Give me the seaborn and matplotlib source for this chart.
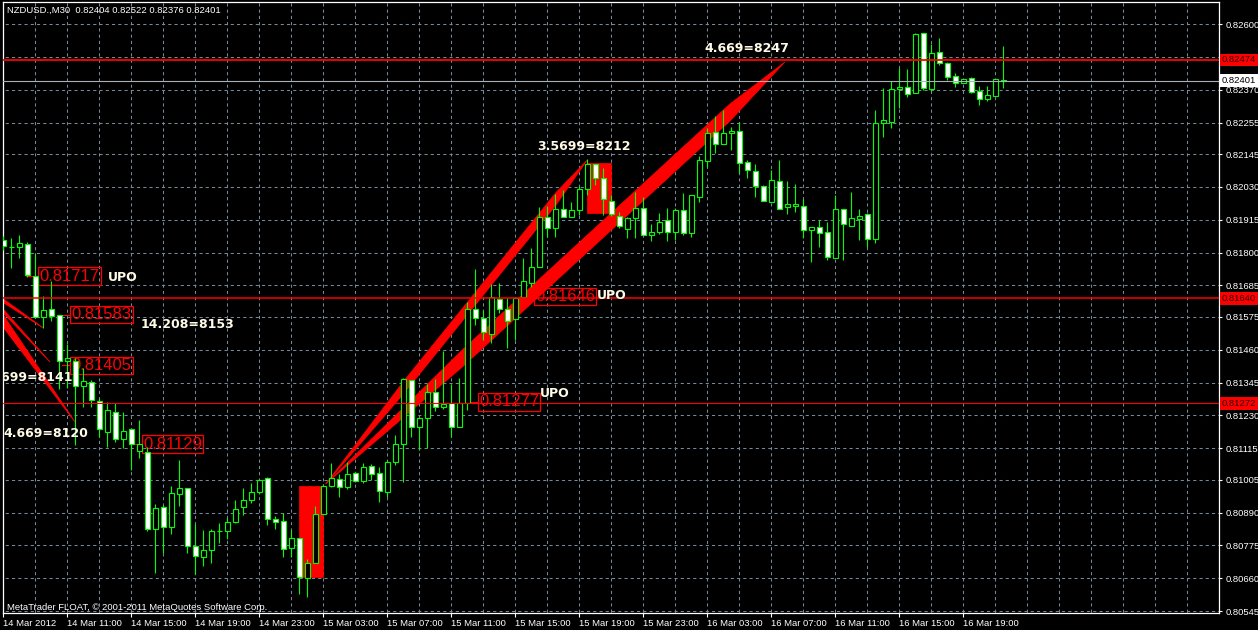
import numpy as np
import pandas as pd
import matplotlib
matplotlib.use("Agg")
import matplotlib.pyplot as plt
import matplotlib.transforms as mtransforms
from matplotlib.patches import Polygon, Rectangle
import seaborn as sns

sns.set_theme(style="dark", rc={"axes.facecolor": "black", "figure.facecolor": "black"})
plt.rcParams["font.family"] = ["Liberation Sans", "DejaVu Sans"]

symbol = "NZDUSD.,M30"

# 30 minute bars, 14 Mar 2012 07:00 -> 16 Mar 2012 21:30
opens = [0.81844, 0.81820, 0.81820, 0.81830, 0.81717, 0.81574, 0.81602, 0.81583, 0.81420, 0.81420,
         0.81333, 0.81347, 0.81280, 0.81172, 0.81242, 0.81148, 0.81182, 0.81106, 0.81102, 0.80832,
         0.80910, 0.80840, 0.80955, 0.80976, 0.80773, 0.80734, 0.80759, 0.80826, 0.80826, 0.80857,
         0.80910, 0.80934, 0.80962, 0.81011, 0.80868, 0.80860, 0.80766, 0.80801, 0.80661, 0.80714,
         0.80885, 0.80983, 0.81008, 0.80980, 0.81028, 0.81000, 0.81053, 0.81028, 0.80962, 0.81067,
         0.81130, 0.81354, 0.81190, 0.81221, 0.81312, 0.81260, 0.81274, 0.81190, 0.81274, 0.81602,
         0.81571, 0.81515, 0.81638, 0.81602, 0.81568, 0.81644, 0.81694, 0.81750, 0.81924, 0.81886,
         0.81952, 0.81924, 0.81949, 0.82022, 0.82110, 0.82061, 0.81980, 0.81928, 0.81882, 0.81921,
         0.81956, 0.81862, 0.81872, 0.81914, 0.81872, 0.81949, 0.81868, 0.81994, 0.82120, 0.82222,
         0.82180, 0.82218, 0.82226, 0.82117, 0.82086, 0.82033, 0.81977, 0.82050, 0.81960, 0.81963,
         0.81963, 0.81879, 0.81890, 0.81872, 0.81781, 0.81952, 0.81893, 0.81918, 0.81935, 0.81848,
         0.82254, 0.82257, 0.82372, 0.82380, 0.82358, 0.82568, 0.82372, 0.82502, 0.82464, 0.82418,
         0.82394, 0.82411, 0.82366, 0.82338, 0.82348, 0.82404]
highs = [0.81858, 0.81851, 0.81862, 0.81837, 0.81799, 0.81648, 0.81700, 0.81583, 0.81480, 0.81431,
         0.81396, 0.81354, 0.81291, 0.81277, 0.81274, 0.81242, 0.81186, 0.81214, 0.81120, 0.80920,
         0.80916, 0.80983, 0.81074, 0.80976, 0.80850, 0.80829, 0.80832, 0.80854, 0.80871, 0.80934,
         0.80976, 0.80994, 0.81008, 0.81014, 0.80878, 0.80888, 0.80829, 0.80801, 0.80728, 0.80913,
         0.80990, 0.81064, 0.81025, 0.81067, 0.81032, 0.81064, 0.81060, 0.81050, 0.81074, 0.81162,
         0.81361, 0.81354, 0.81224, 0.81340, 0.81358, 0.81456, 0.81340, 0.81361, 0.81627, 0.81742,
         0.81599, 0.81690, 0.81694, 0.81641, 0.81644, 0.81781, 0.81816, 0.81960, 0.81963, 0.82005,
         0.82019, 0.81977, 0.82033, 0.82128, 0.82110, 0.82096, 0.82002, 0.81942, 0.81924, 0.82012,
         0.81994, 0.81900, 0.81938, 0.81956, 0.81956, 0.82008, 0.82002, 0.82138, 0.82236, 0.82278,
         0.82299, 0.82240, 0.82257, 0.82124, 0.82110, 0.82036, 0.82089, 0.82124, 0.82050, 0.82040,
         0.81988, 0.81890, 0.81914, 0.81907, 0.82002, 0.81952, 0.82012, 0.81952, 0.81938, 0.82299,
         0.82376, 0.82400, 0.82446, 0.82442, 0.82568, 0.82568, 0.82530, 0.82551, 0.82467, 0.82428,
         0.82408, 0.82414, 0.82383, 0.82383, 0.82408, 0.82522]
lows = [0.81809, 0.81746, 0.81781, 0.81715, 0.81571, 0.81536, 0.81560, 0.81322, 0.81326, 0.81126,
        0.81259, 0.81259, 0.81154, 0.81120, 0.81137, 0.81116, 0.81039, 0.81081, 0.80826, 0.80678,
        0.80748, 0.80815, 0.80913, 0.80748, 0.80675, 0.80703, 0.80714, 0.80784, 0.80798, 0.80854,
        0.80882, 0.80924, 0.80955, 0.80846, 0.80832, 0.80734, 0.80734, 0.80605, 0.80594, 0.80714,
        0.80885, 0.80980, 0.80944, 0.80972, 0.80997, 0.80994, 0.81004, 0.80927, 0.80944, 0.81056,
        0.80997, 0.81154, 0.81109, 0.81116, 0.81246, 0.81252, 0.81154, 0.81190, 0.81249, 0.81546,
        0.81494, 0.81484, 0.81588, 0.81466, 0.81494, 0.81641, 0.81680, 0.81750, 0.81854, 0.81854,
        0.81924, 0.81924, 0.81932, 0.82002, 0.82036, 0.81932, 0.81928, 0.81886, 0.81851, 0.81851,
        0.81862, 0.81840, 0.81865, 0.81840, 0.81844, 0.81862, 0.81854, 0.81977, 0.82100, 0.82148,
        0.82180, 0.82159, 0.82078, 0.82061, 0.81994, 0.81980, 0.81977, 0.81952, 0.81935, 0.81942,
        0.81851, 0.81767, 0.81820, 0.81774, 0.81781, 0.81774, 0.81893, 0.81844, 0.81820, 0.81834,
        0.82204, 0.82236, 0.82306, 0.82344, 0.82358, 0.82369, 0.82366, 0.82456, 0.82404, 0.82380,
        0.82394, 0.82358, 0.82316, 0.82330, 0.82348, 0.82376]
closes = [0.81823, 0.81820, 0.81834, 0.81722, 0.81574, 0.81599, 0.81578, 0.81420, 0.81431, 0.81333,
          0.81350, 0.81284, 0.81182, 0.81249, 0.81148, 0.81176, 0.81130, 0.81129, 0.80832, 0.80906,
          0.80840, 0.80958, 0.80976, 0.80773, 0.80738, 0.80759, 0.80826, 0.80826, 0.80857, 0.80902,
          0.80934, 0.80962, 0.81004, 0.80868, 0.80857, 0.80762, 0.80801, 0.80664, 0.80714, 0.80885,
          0.80983, 0.81011, 0.80980, 0.81025, 0.81000, 0.81050, 0.81025, 0.80966, 0.81067, 0.81130,
          0.81358, 0.81190, 0.81221, 0.81312, 0.81260, 0.81270, 0.81190, 0.81274, 0.81602, 0.81571,
          0.81522, 0.81646, 0.81602, 0.81560, 0.81641, 0.81700, 0.81750, 0.81924, 0.81886, 0.81952,
          0.81924, 0.81949, 0.82022, 0.82110, 0.82061, 0.81988, 0.81935, 0.81893, 0.81921, 0.81956,
          0.81862, 0.81872, 0.81907, 0.81872, 0.81949, 0.81868, 0.82002, 0.82124, 0.82218, 0.82180,
          0.82218, 0.82226, 0.82114, 0.82089, 0.82033, 0.81980, 0.82054, 0.81952, 0.81970, 0.81970,
          0.81879, 0.81890, 0.81868, 0.81784, 0.81952, 0.81900, 0.81921, 0.81928, 0.81848, 0.82254,
          0.82264, 0.82372, 0.82380, 0.82355, 0.82565, 0.82376, 0.82498, 0.82464, 0.82414, 0.82394,
          0.82408, 0.82362, 0.82338, 0.82352, 0.82408, 0.82401]

price_ticks = [0.82600, 0.82485, 0.82370, 0.82255, 0.82145, 0.82030, 0.81915, 0.81800, 0.81685,
               0.81575, 0.81460, 0.81345, 0.81230, 0.81115, 0.81005, 0.80890, 0.80775, 0.80660, 0.80545]
time_labels = ["14 Mar 2012", "14 Mar 11:00", "14 Mar 15:00", "14 Mar 19:00", "14 Mar 23:00",
               "15 Mar 03:00", "15 Mar 07:00", "15 Mar 11:00", "15 Mar 15:00", "15 Mar 19:00",
               "15 Mar 23:00", "16 Mar 03:00", "16 Mar 07:00", "16 Mar 11:00", "16 Mar 15:00",
               "16 Mar 19:00"]

levels = [0.82474, 0.81640, 0.81272]
price_marks = ["0.81717", "0.81583", "0.81405", "0.81129", "0.81646", "0.81277"]
notes = ["4.669=8247", "3.5699=8212", "14.208=8153", "3.5699=8141", "4.669=8120", "UPO", "UPO", "UPO"]
note_prices = [0.82516, 0.82173, 0.81550, 0.81361, 0.81168, 0.81714, 0.81651, 0.81305]

# chart objects (bar index, price)
mark_bars = [4.34, 8.34, 8.34, 17.3, 66.3, 59.3]
mark_from = [2.84, 6.7, 7.3, 16.5, 64.6, 58.0]
note_bars = [87.7, 66.7, 17.2, 8.7, 0.0, 13.1, 74.2, 67.1]
note_ha = ["left", "left", "left", "right", "left", "left", "left", "left"]
boxes = [(37, 0.80664, 40, 0.80983), (73, 0.81938, 76, 0.82114)]
fan_apex = (40.3, 0.80990)
fan_tips = [(73.0, 0.82124), (97.7, 0.82467)]
fan_half = [0.00022, 0.00030]
left_fans = [((-0.5, 0.81648, 0.81634), (5.0, 0.81536)),
             ((-0.5, 0.81617, 0.81603), (5.84, 0.81417)),
             ((-0.5, 0.81602, 0.81557), (8.96, 0.81207))]

green = "#00ff00"
grid_c = "#778899"
cream = "#fffbe6"

df = pd.DataFrame({"open": opens, "high": highs, "low": lows, "close": closes})
df["bar"] = np.arange(len(df))
up = df["close"] >= df["open"]

fig = plt.figure(figsize=(12.58, 6.30), dpi=100)
ax = fig.add_axes([3 / 1258, 17 / 630, 1216 / 1258, 611 / 630])
ax.set_facecolor("black")
ax.set_xlim(-0.04, 151.96)
ax.set_ylim(0.805385, 0.82677)

# grid
ax.vlines(np.arange(0, 152, 4), 0.80, 0.83, colors=grid_c, lw=0.75, linestyles=(0, (3, 3)), zorder=1)
ax.hlines(price_ticks, -1, 160, colors=grid_c, lw=0.75, linestyles=(0, (3, 3)), zorder=1)

# filled objects behind candles
for x0, y0, x1, y1 in boxes:
    ax.add_patch(Rectangle((x0, y0), x1 - x0, y1 - y0, fc="red", ec="red", lw=0.5, zorder=2))

t = np.array([0.0, 0.3, 0.88, 1.0])
prof = np.array([0.0, 1.0, 1.0, 0.0])
for (tx, ty), h in zip(fan_tips, fan_half):
    xs = fan_apex[0] + t * (tx - fan_apex[0])
    ys = fan_apex[1] + t * (ty - fan_apex[1])
    verts = list(zip(xs, ys + prof * h)) + list(zip(xs[::-1], (ys - prof * h)[::-1]))
    ax.add_patch(Polygon(verts, closed=True, fc="red", ec="red", lw=0.5, zorder=2))

for (bx, btop, bbot), (tx, ty) in left_fans:
    ax.add_patch(Polygon([(bx, btop), (tx, ty), (bx, bbot)], closed=True,
                         fc="red", ec="red", lw=0.6, zorder=2))

# price marks with frame
for txt, bx, fx in zip(price_marks, mark_bars, mark_from):
    p = float(txt)
    ax.plot([fx, bx], [p, p], color="red", lw=0.8, zorder=2.5)
    ax.text(bx + 0.15, p, txt, color="red", fontsize=12, ha="left", va="center",
            family=["Liberation Sans", "DejaVu Sans"], zorder=2.6,
            bbox=dict(boxstyle="square,pad=0.08", fc="none", ec="red", lw=0.9))

# candles
ax.vlines(df["bar"], df["low"], df["high"], color=green, lw=0.8, zorder=3)
body_lo = df[["open", "close"]].min(axis=1)
body_h = (df["close"] - df["open"]).abs().clip(lower=0.000004)
ax.bar(df["bar"], body_h, bottom=body_lo, width=0.62,
       color=np.where(up, "black", "white"), edgecolor=green, linewidth=0.8, zorder=3.2)

# horizontal levels
ax.axhline(levels[0], color="red", lw=1.3, zorder=4)
ax.axhline(levels[1], color="red", lw=1.1, zorder=4)
ax.axhline(levels[2], color="red", lw=0.8, zorder=4)
ax.axhline(closes[-1], color="#a8b0b8", lw=0.8, zorder=4)

# text notes
for txt, bx, p, ha in zip(notes, note_bars, note_prices, note_ha):
    ax.text(bx, p, txt, color=cream, fontsize=9, fontweight="bold", ha=ha, va="center",
            family=["DejaVu Sans"], zorder=5, clip_on=True)

# axes styling
ax.yaxis.tick_right()
ax.set_yticks(price_ticks)
ax.set_yticklabels([f"{v:.5f}" for v in price_ticks])
ax.set_xticks(np.arange(0, 8 * len(time_labels), 8))
ax.set_xticklabels(time_labels, ha="left")
ax.tick_params(axis="y", colors="white", length=2.5, width=0.8, pad=2, labelsize=6.8,
               right=True, left=False)
ax.tick_params(axis="x", colors="white", length=3, width=0.8, pad=1.5, labelsize=6.8,
               bottom=True)
for s in ax.spines.values():
    s.set_color("white")
    s.set_linewidth(0.9)
ax.grid(False)

# price labels on the right scale
trans = mtransforms.blended_transform_factory(ax.transAxes, ax.transData)
for lv in levels:
    ax.text(1.0 + 3 / 1216, lv, f"{lv:.5f}", transform=trans, color="#300000", fontsize=6.8,
            ha="left", va="center", clip_on=False, zorder=10,
            bbox=dict(boxstyle="square,pad=0.2", fc="red", ec="none"))
ax.text(1.0 + 3 / 1216, closes[-1], f"{closes[-1]:.5f}", transform=trans, color="black",
        fontsize=6.8, ha="left", va="center", clip_on=False, zorder=10,
        bbox=dict(boxstyle="square,pad=0.2", fc="white", ec="none"))

header = f"{symbol}  {opens[-1]:.5f} {highs[-1]:.5f} {lows[-1]:.5f} {closes[-1]:.5f}"
fig.text(7 / 1258, 1 - 10 / 630, header, color="white", fontsize=6.8, ha="left", va="center")
fig.text(7 / 1258, 1 - 607 / 630, "MetaTrader FLOAT, \u00a9 2001-2011 MetaQuotes Software Corp.",
         color="white", fontsize=6.8, ha="left", va="center")

fig.savefig("out.png", dpi=100, facecolor="black")
